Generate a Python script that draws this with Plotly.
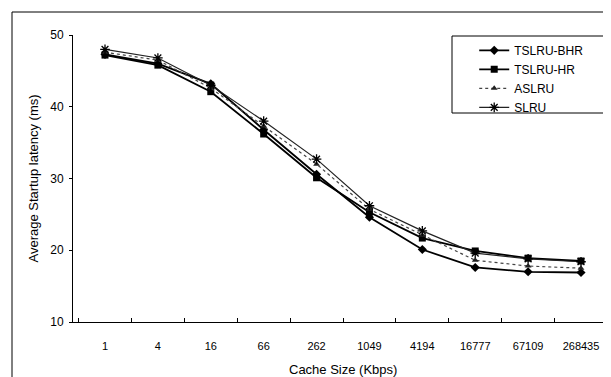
import plotly.graph_objects as go

categories = ["1", "4", "16", "66", "262", "1049", "4194", "16777", "67109", "268435"]
tslru_bhr = [47.3, 46.0, 43.2, 36.8, 30.6, 24.6, 20.1, 17.6, 17.0, 16.9]
tslru_hr = [47.2, 45.8, 42.1, 36.2, 30.1, 25.3, 21.7, 19.9, 18.9, 18.5]
aslru = [47.6, 46.5, 42.6, 37.3, 32.0, 25.7, 22.1, 18.6, 17.8, 17.5]
slru = [48.0, 46.8, 43.0, 38.0, 32.7, 26.2, 22.7, 19.6, 18.8, 18.4]

fig = go.Figure()
fig.add_trace(go.Scatter(x=categories, y=tslru_bhr, name="TSLRU-BHR", mode="lines+markers",
                         line=dict(color="black", width=1.8),
                         marker=dict(symbol="diamond", size=7, color="black")))
fig.add_trace(go.Scatter(x=categories, y=tslru_hr, name="TSLRU-HR", mode="lines+markers",
                         line=dict(color="black", width=1.8),
                         marker=dict(symbol="square", size=7, color="black")))
fig.add_trace(go.Scatter(x=categories, y=aslru, name="ASLRU", mode="lines+markers",
                         line=dict(color="#444444", width=1.2, dash="dot"),
                         marker=dict(symbol="triangle-up", size=6, color="#222222")))
fig.add_trace(go.Scatter(x=categories, y=slru, name="SLRU", mode="lines+markers",
                         line=dict(color="#222222", width=1.2),
                         marker=dict(symbol="asterisk-open", size=8, color="black",
                                     line=dict(color="black", width=1.3))))

font_family = "Liberation Sans, Arial, sans-serif"
fig.update_layout(
    width=611, height=377,
    margin=dict(l=65, r=6, t=27, b=63),
    paper_bgcolor="white", plot_bgcolor="white",
    font=dict(family=font_family, color="black", size=11),
    showlegend=True,
    legend=dict(x=0.743, y=0.997, xanchor="left", yanchor="top",
                bgcolor="rgba(0,0,0,0)", borderwidth=0,
                font=dict(size=12, family=font_family), tracegroupgap=0),
    xaxis=dict(type="category", showline=True, linecolor="black", linewidth=1,
               ticks="inside", ticklen=4, tickcolor="black", tickson="boundaries",
               showgrid=False, zeroline=False, ticklabelstandoff=14,
               tickfont=dict(size=11)),
    yaxis=dict(range=[10, 50], dtick=10, showline=True, linecolor="black", linewidth=1,
               ticks="outside", ticklen=3, tickcolor="black", showgrid=False,
               zeroline=False, tickfont=dict(size=12), ticklabelstandoff=3),
    annotations=[
        dict(text="Cache Size (Kbps)", xref="paper", yref="paper", x=0.5, y=-0.167,
             xanchor="center", yanchor="middle", showarrow=False,
             font=dict(size=13, family=font_family)),
        dict(text="Average Startup latency (ms)", xref="paper", yref="paper", x=-0.074, y=0.5,
             xanchor="center", yanchor="middle", showarrow=False, textangle=-90,
             font=dict(size=13, family=font_family)),
    ],
    shapes=[
        dict(type="rect", xref="paper", yref="paper", x0=(444-65)/540, x1=(600-65)/540,
             y0=(314-105)/287, y1=(314-28)/287, line=dict(color="black", width=1)),
        dict(type="line", xref="paper", yref="paper", x0=(4-65)/540, x1=(611-65)/540,
             y0=(314-4)/287, y1=(314-4)/287, line=dict(color="black", width=1)),
        dict(type="line", xref="paper", yref="paper", x0=(4-65)/540, x1=(4-65)/540,
             y0=(314-4)/287, y1=(314-377)/287, line=dict(color="black", width=1)),
    ],
)

fig.write_html("out.html")
